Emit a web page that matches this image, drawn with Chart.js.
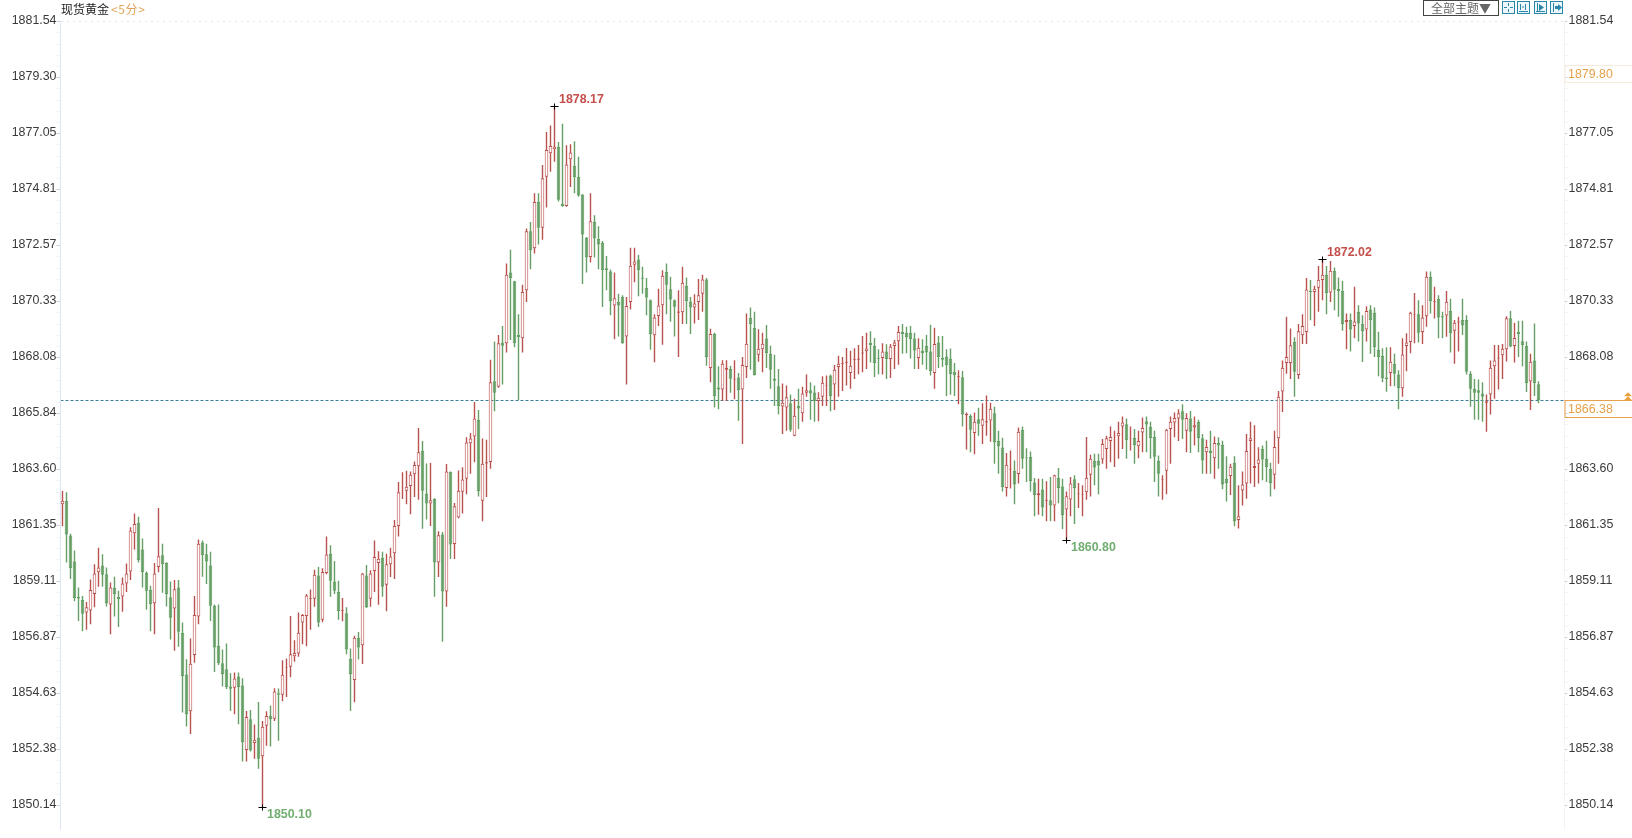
<!DOCTYPE html>
<html>
<head>
<meta charset="utf-8">
<title>现货黄金</title>
<script src="https://cdn.jsdelivr.net/npm/chart.js@4/dist/chart.umd.min.js"></script>
<style>
  html, body { margin: 0; padding: 0; background: #fff; }
  #wrap { position: relative; width: 1632px; height: 838px; overflow: hidden; }
  #title { position: absolute; left: 61px; top: 0; font: 12px/17px "Noto Sans CJK SC", sans-serif; color: #222; white-space: nowrap; }
  #title span { color: #dfa65a; margin-left: 2px; letter-spacing: 0.6px; }
  #theme { position: absolute; left: 1423px; top: 0; width: 74px; height: 14px; border: 1px solid #444; font: 12px/14px "Noto Sans CJK SC", sans-serif; color: #666; text-align: center; }
  .tool { position: absolute; top: 1px; width: 13px; height: 13px; }
</style>
</head>
<body>
<div id="wrap">
  <canvas id="goldChart" width="1632" height="838"></canvas>
  <div id="title">现货黄金<span>&lt;5分&gt;</span></div>
  <div id="theme">全部主题▼</div>
  <svg class="tool" style="left:1502px" viewBox="0 0 13 13"><rect x=".5" y=".5" width="12" height="12" fill="#eef7fb" stroke="#2a86a8"/><path d="M6.5 2v3M6.5 8v3M2 6.5h3M8 6.5h3" stroke="#2a86a8"/></svg>
  <svg class="tool" style="left:1517px" viewBox="0 0 13 13"><rect x=".5" y=".5" width="12" height="12" fill="#eef7fb" stroke="#2a86a8"/><path d="M3.5 3v6M8.5 3v6M2 10.5h9M5 6h2" stroke="#2a86a8"/></svg>
  <svg class="tool" style="left:1534px" viewBox="0 0 13 13"><rect x=".5" y=".5" width="12" height="12" fill="#eef7fb" stroke="#2a86a8"/><path d="M3.5 2v8M2 10.5h9" stroke="#2a86a8"/><path d="M5 3l5 3.5-5 3.5z" fill="#2a86a8"/></svg>
  <svg class="tool" style="left:1550px" viewBox="0 0 13 13"><rect x=".5" y=".5" width="12" height="12" fill="#eef7fb" stroke="#2a86a8"/><path d="M3.5 2v9" stroke="#2a86a8"/><path d="M5 5h3V3l4 3.5-4 3.5V8H5z" fill="#2a86a8"/></svg>
</div>
<script>
// price axis labels; the right side swaps two of them for price tags
const tickValues = [1881.54, 1879.30, 1877.05, 1874.81, 1872.57, 1870.33, 1868.08, 1865.84, 1863.60, 1861.35, 1859.11, 1856.87, 1854.63, 1852.38, 1850.14]
const rightHidden = [1879.30, 1865.84]

// 5 minute candles
const opens = [
  1862.21,1862.35,1860.96,1859.92,1858.50,1858.38,1857.88,1857.96,1858.62,1859.49,
  1859.76,1859.41,1858.20,1858.86,1858.50,1858.52,1859.04,1859.52,1861.05,1861.47,
  1860.40,1859.47,1858.78,1858.25,1859.70,1860.17,1859.86,1858.49,1858.04,1858.88,
  1857.06,1855.40,1853.92,1856.18,1857.72,1860.68,1860.21,1859.76,1858.15,1856.55,
  1855.85,1855.61,1854.92,1854.87,1855.32,1854.96,1852.37,1853.60,1852.65,1852.86,
  1852.12,1853.34,1853.74,1853.62,1854.65,1854.59,1855.66,1855.71,1856.13,1856.24,
  1857.48,1857.74,1858.43,1858.43,1859.36,1857.59,1859.46,1860.23,1859.12,1858.70,
  1857.94,1857.85,1856.03,1855.18,1856.87,1856.57,1859.36,1858.43,1859.54,1859.86,
  1860.07,1858.99,1859.81,1860.25,1861.34,1862.74,1862.76,1862.95,1863.42,1863.74,
  1864.35,1862.63,1862.24,1862.42,1859.88,1861.00,1858.72,1863.52,1860.62,1861.68,
  1862.71,1863.24,1864.66,1864.93,1865.59,1862.35,1863.85,1863.91,1867.14,1866.92,
  1868.69,1868.66,1871.50,1871.15,1868.99,1868.86,1870.78,1873.15,1872.47,1874.32,
  1873.29,1875.33,1876.27,1876.43,1876.52,1874.24,1874.16,1876.03,1875.77,1875.33,
  1874.62,1872.89,1872.12,1873.52,1872.84,1872.69,1871.67,1871.54,1870.17,1870.31,
  1870.51,1868.93,1870.31,1871.81,1872.02,1871.30,1870.88,1870.38,1868.98,1869.75,
  1870.18,1871.52,1870.82,1870.38,1869.88,1869.90,1870.97,1870.33,1870.09,1870.31,
  1870.64,1871.22,1867.67,1869.03,1866.89,1866.81,1867.60,1867.63,1867.21,1867.29,
  1866.81,1867.71,1869.67,1869.27,1868.20,1868.42,1868.85,1868.24,1867.25,1866.94,
  1866.13,1866.09,1866.26,1864.96,1866.15,1865.86,1866.68,1866.78,1866.69,1866.35,
  1866.52,1866.96,1867.37,1867.01,1867.71,1867.84,1867.88,1867.47,1868.00,1868.00,
  1868.25,1868.34,1868.67,1868.55,1868.08,1868.07,1868.33,1868.03,1868.55,1868.74,
  1869.11,1869.08,1869.08,1868.85,1868.07,1868.36,1868.55,1868.33,1867.47,1868.69,
  1868.08,1868.13,1868.05,1867.52,1867.30,1867.30,1865.78,1865.75,1865.07,1865.62,
  1865.36,1865.49,1865.57,1865.86,1864.75,1864.49,1862.87,1863.61,1863.56,1863.43,
  1865.19,1864.09,1864.12,1863.09,1862.57,1862.81,1862.35,1862.37,1862.16,1863.27,
  1862.93,1862.00,1862.40,1863.22,1862.61,1862.60,1862.69,1863.40,1863.96,1863.96,
  1864.01,1864.43,1864.75,1864.94,1864.94,1865.33,1865.42,1864.86,1864.88,1864.54,
  1865.09,1865.54,1865.32,1864.91,1863.96,1863.21,1863.56,1865.23,1865.49,1865.65,
  1865.94,1865.16,1865.65,1865.29,1865.52,1864.86,1864.30,1864.37,1864.06,1864.67,
  1864.59,1863.24,1863.35,1863.88,1861.58,1862.77,1863.05,1864.75,1863.67,1863.84,
  1864.43,1864.04,1863.64,1863.40,1864.86,1866.73,1867.87,1867.87,1868.71,1867.39,
  1868.98,1869.11,1870.75,1870.71,1870.88,1871.20,1871.41,1870.69,1871.57,1870.83,
  1870.75,1869.51,1869.59,1869.35,1869.92,1869.43,1869.21,1870.01,1869.88,1868.40,
  1868.16,1867.29,1867.47,1867.84,1867.41,1866.86,1868.55,1868.71,1869.80,1869.82,
  1869.11,1869.74,1871.33,1870.32,1870.43,1869.74,1869.77,1869.95,1869.16,1869.49,
  1869.59,1869.59,1867.44,1866.84,1866.78,1866.65,1866.28,1866.61,1867.74,1868.05,
  1868.18,1868.42,1869.66,1868.55,1869.11,1868.74,1868.55,1867.13,1867.97,1867.02
]
const closes = [
  1862.35,1861.00,1859.65,1858.46,1858.44,1857.83,1858.09,1858.78,1859.44,1859.68,
  1859.39,1858.25,1858.88,1858.62,1858.42,1859.04,1859.44,1861.16,1861.42,1859.97,
  1859.49,1858.75,1858.22,1859.44,1860.13,1859.81,1858.62,1857.67,1858.81,1857.11,
  1855.34,1853.80,1855.83,1857.78,1860.63,1860.18,1859.92,1858.15,1856.48,1855.85,
  1855.42,1854.90,1854.83,1855.24,1854.90,1852.68,1853.69,1852.35,1852.78,1852.02,
  1853.30,1853.73,1853.60,1854.72,1854.59,1855.39,1855.68,1856.21,1856.26,1857.07,
  1857.78,1858.56,1858.46,1859.39,1857.48,1859.50,1860.20,1859.15,1858.75,1857.93,
  1857.97,1856.40,1855.42,1856.87,1856.48,1859.44,1858.09,1859.44,1860.10,1860.03,
  1858.91,1859.81,1860.12,1861.34,1862.69,1862.76,1862.92,1863.40,1863.79,1864.30,
  1862.76,1862.24,1862.37,1859.88,1860.97,1858.72,1863.53,1860.60,1862.13,1862.76,
  1863.21,1864.69,1864.85,1865.65,1862.74,1863.84,1863.90,1867.10,1866.68,1868.66,
  1868.56,1871.41,1871.28,1868.66,1868.90,1870.71,1873.15,1872.39,1874.32,1873.29,
  1875.27,1876.40,1876.56,1876.54,1874.41,1874.16,1875.82,1876.30,1875.32,1874.58,
  1873.02,1872.10,1873.55,1872.86,1872.62,1871.59,1871.59,1870.35,1870.46,1870.17,
  1868.66,1870.15,1871.77,1871.94,1871.59,1871.25,1870.49,1869.03,1869.69,1870.17,
  1871.37,1871.01,1870.41,1870.12,1869.93,1871.09,1870.35,1870.09,1870.25,1870.58,
  1871.22,1868.11,1869.03,1866.55,1866.81,1867.84,1867.68,1867.24,1867.24,1866.79,
  1867.79,1868.64,1869.43,1867.39,1868.44,1868.64,1868.27,1867.60,1867.16,1866.15,
  1866.28,1866.50,1865.20,1865.76,1866.05,1866.65,1866.78,1866.65,1866.35,1866.48,
  1867.08,1866.98,1866.55,1867.60,1867.84,1867.87,1867.92,1867.76,1868.04,1868.05,
  1868.29,1868.45,1868.58,1867.87,1868.04,1868.33,1868.03,1868.53,1868.69,1869.11,
  1869.03,1868.90,1868.82,1868.37,1868.48,1868.26,1868.29,1867.54,1868.63,1868.11,
  1868.00,1867.78,1867.42,1867.39,1867.34,1865.81,1865.83,1865.20,1865.52,1865.44,
  1865.62,1865.54,1866.04,1864.70,1864.54,1862.91,1863.80,1863.64,1863.01,1865.12,
  1864.04,1864.06,1863.14,1862.58,1862.65,1862.08,1862.39,1862.16,1863.38,1862.87,
  1861.77,1862.53,1863.05,1862.87,1862.64,1862.62,1863.28,1864.04,1863.69,1863.77,
  1864.63,1864.86,1864.91,1864.96,1865.07,1865.49,1864.78,1864.88,1864.59,1864.75,
  1865.27,1865.41,1864.86,1864.12,1863.44,1863.24,1865.20,1865.52,1865.67,1865.86,
  1865.60,1865.67,1865.12,1865.38,1864.86,1863.97,1864.51,1864.26,1864.67,1864.57,
  1863.01,1863.06,1863.72,1861.53,1861.73,1863.01,1864.35,1864.86,1863.75,1864.01,
  1864.01,1863.71,1863.06,1864.51,1866.52,1867.68,1868.11,1868.58,1867.52,1869.14,
  1869.35,1870.81,1870.71,1870.84,1871.21,1871.41,1870.67,1871.57,1870.80,1870.75,
  1869.43,1869.59,1869.21,1869.53,1869.45,1869.14,1869.95,1869.58,1868.50,1868.11,
  1867.26,1867.23,1867.92,1867.44,1866.86,1868.21,1868.69,1869.88,1869.82,1869.08,
  1869.69,1871.33,1870.35,1870.35,1869.69,1869.69,1870.32,1869.06,1869.48,1869.53,
  1869.37,1867.52,1866.84,1866.68,1866.68,1866.52,1866.34,1867.68,1867.97,1868.08,
  1868.44,1869.66,1868.53,1868.87,1869.02,1868.58,1867.07,1867.92,1867.07,1866.38
]
const highs = [
  1862.74,1862.69,1861.03,1860.36,1858.88,1858.54,1858.30,1859.20,1859.81,1860.47,
  1860.21,1859.68,1859.08,1859.31,1858.75,1859.28,1859.84,1861.29,1861.84,1861.71,
  1860.84,1859.52,1858.95,1859.86,1862.06,1860.63,1859.89,1859.12,1859.18,1859.18,
  1857.48,1856.01,1856.84,1858.54,1860.80,1860.76,1860.63,1860.31,1858.20,1858.20,
  1856.40,1856.64,1855.45,1855.48,1855.48,1855.25,1853.93,1853.97,1853.39,1854.29,
  1853.53,1853.92,1854.15,1854.85,1854.84,1855.97,1856.04,1857.74,1856.77,1857.88,
  1857.82,1858.62,1858.80,1859.59,1859.70,1859.65,1860.92,1860.57,1859.94,1859.15,
  1858.46,1858.09,1856.44,1856.95,1857.10,1859.46,1859.78,1859.57,1860.76,1860.33,
  1860.31,1860.23,1860.47,1861.58,1863.11,1863.50,1863.56,1863.53,1863.93,1865.27,
  1864.75,1863.85,1863.87,1862.45,1861.13,1861.10,1863.83,1863.53,1862.26,1863.57,
  1863.70,1864.90,1865.07,1866.31,1865.99,1864.85,1864.80,1868.00,1868.73,1868.99,
  1869.35,1871.86,1872.41,1871.17,1869.82,1871.01,1873.26,1873.52,1874.67,1874.67,
  1875.80,1877.12,1877.38,1878.17,1876.72,1877.45,1876.59,1876.63,1876.75,1876.13,
  1874.63,1872.92,1874.67,1873.79,1873.35,1872.76,1872.16,1871.62,1871.50,1870.64,
  1870.58,1870.51,1872.49,1872.49,1872.20,1871.73,1871.28,1870.41,1869.82,1870.84,
  1871.59,1871.86,1871.33,1870.41,1870.78,1871.73,1871.30,1870.51,1870.62,1871.24,
  1871.41,1871.28,1869.24,1869.08,1867.74,1867.98,1867.98,1867.76,1867.98,1867.47,
  1868.11,1869.85,1870.09,1869.92,1869.22,1869.08,1869.39,1868.56,1868.20,1867.63,
  1867.05,1866.97,1866.61,1866.44,1866.84,1866.92,1867.41,1867.10,1866.97,1866.70,
  1867.34,1867.37,1867.41,1867.79,1868.16,1868.11,1868.47,1868.36,1868.46,1868.59,
  1868.95,1869.08,1869.14,1868.87,1868.42,1868.66,1868.62,1868.63,1868.79,1869.35,
  1869.43,1869.32,1869.35,1869.08,1868.86,1868.82,1868.99,1869.40,1869.28,1868.95,
  1868.95,1868.42,1868.45,1867.87,1867.58,1867.55,1865.89,1865.82,1865.89,1866.08,
  1866.26,1866.57,1866.28,1866.12,1865.16,1864.88,1864.27,1864.37,1863.97,1865.29,
  1865.33,1864.46,1864.33,1863.27,1863.24,1863.24,1863.14,1863.31,1863.40,1863.67,
  1863.24,1862.72,1863.31,1863.38,1863.07,1862.98,1864.91,1864.20,1864.24,1864.24,
  1864.83,1864.96,1865.33,1865.16,1865.52,1865.73,1865.65,1865.33,1865.23,1865.16,
  1865.69,1865.73,1865.52,1865.16,1864.17,1863.38,1865.23,1865.73,1865.89,1866.02,
  1866.22,1865.86,1865.95,1865.73,1865.60,1865.03,1864.80,1865.16,1864.93,1864.90,
  1864.76,1864.14,1863.84,1864.14,1862.98,1863.53,1865.03,1865.52,1865.38,1864.50,
  1864.57,1864.76,1863.88,1865.16,1866.75,1867.97,1869.72,1869.25,1868.90,1869.43,
  1869.82,1871.28,1871.20,1870.97,1871.76,1872.02,1871.76,1871.96,1871.70,1871.30,
  1871.17,1869.85,1869.85,1870.93,1870.18,1869.78,1870.14,1870.18,1870.09,1869.12,
  1868.46,1868.50,1868.50,1868.24,1867.58,1868.86,1869.06,1869.92,1870.67,1870.38,
  1870.18,1871.54,1871.54,1870.93,1870.58,1869.92,1870.75,1870.44,1869.59,1869.72,
  1870.44,1869.78,1867.54,1867.23,1867.21,1867.10,1866.61,1867.97,1868.59,1868.59,
  1868.63,1869.74,1869.95,1869.48,1869.56,1869.56,1868.73,1868.24,1869.45,1867.14
]
const lows = [
  1861.33,1859.88,1859.22,1858.33,1857.54,1857.13,1857.19,1857.41,1858.09,1858.91,
  1858.91,1858.12,1857.01,1857.72,1857.30,1857.91,1858.70,1859.18,1860.40,1859.88,
  1858.88,1857.99,1857.13,1857.01,1859.49,1858.67,1858.12,1856.80,1856.35,1856.51,
  1853.87,1853.31,1853.01,1855.87,1857.41,1859.31,1859.02,1857.54,1855.50,1855.78,
  1854.92,1854.82,1853.93,1853.80,1853.40,1851.91,1851.91,1852.31,1852.02,1851.62,
  1850.10,1852.54,1852.51,1853.53,1852.74,1854.32,1854.49,1855.29,1855.91,1856.11,
  1856.61,1856.53,1857.19,1858.11,1857.30,1857.49,1859.41,1858.51,1858.62,1857.59,
  1857.53,1856.21,1853.93,1854.28,1856.00,1855.82,1858.06,1858.11,1858.70,1858.19,
  1858.51,1857.93,1859.30,1859.22,1860.92,1862.42,1862.21,1861.81,1862.50,1862.39,
  1861.23,1861.60,1861.34,1858.51,1859.30,1856.71,1858.11,1860.02,1860.02,1861.65,
  1861.84,1862.61,1863.44,1863.90,1862.52,1861.53,1862.50,1863.64,1865.94,1866.88,
  1867.01,1868.29,1868.79,1868.50,1866.39,1868.29,1870.31,1871.63,1872.26,1872.62,
  1872.81,1874.10,1875.53,1875.93,1874.34,1874.13,1874.13,1874.92,1874.67,1874.53,
  1871.04,1871.50,1871.90,1872.10,1871.63,1870.11,1870.78,1869.78,1868.82,1868.93,
  1868.64,1867.01,1870.01,1871.11,1870.54,1870.64,1869.78,1868.40,1867.90,1869.35,
  1868.60,1869.82,1869.52,1868.93,1868.11,1869.43,1869.43,1869.03,1869.45,1869.59,
  1869.92,1867.76,1867.10,1866.09,1866.02,1866.35,1866.35,1866.68,1866.42,1865.56,
  1864.63,1867.27,1867.60,1867.37,1867.92,1867.50,1867.67,1866.84,1866.15,1865.82,
  1865.03,1865.16,1865.12,1864.94,1865.23,1865.52,1866.52,1865.60,1865.52,1865.54,
  1866.15,1866.15,1865.94,1865.99,1866.52,1866.75,1866.97,1866.84,1867.23,1867.42,
  1867.50,1867.63,1867.89,1867.31,1867.42,1867.41,1867.23,1867.27,1867.63,1867.80,
  1868.24,1868.26,1868.05,1867.63,1867.63,1867.80,1867.60,1867.37,1866.84,1867.67,
  1867.71,1866.55,1866.60,1866.55,1866.22,1865.33,1864.41,1864.30,1864.22,1864.96,
  1864.63,1864.96,1864.72,1863.84,1863.44,1862.72,1862.52,1862.85,1862.21,1863.05,
  1863.64,1863.11,1862.72,1861.73,1861.79,1861.73,1861.53,1861.53,1861.53,1862.25,
  1861.22,1860.80,1861.73,1861.42,1862.06,1861.73,1862.39,1862.52,1862.98,1862.61,
  1863.84,1863.64,1863.90,1863.71,1864.04,1864.43,1864.04,1864.37,1863.84,1864.06,
  1864.30,1864.30,1864.04,1863.11,1862.52,1862.39,1862.61,1863.84,1864.90,1864.75,
  1864.83,1864.30,1864.27,1864.57,1864.30,1863.44,1863.44,1863.44,1863.24,1863.64,
  1862.82,1862.32,1862.58,1861.33,1861.24,1862.16,1862.43,1863.05,1862.91,1863.05,
  1863.18,1863.11,1862.52,1862.82,1863.84,1865.91,1867.44,1867.23,1866.52,1867.23,
  1868.63,1868.63,1869.58,1869.35,1869.92,1870.38,1869.82,1870.31,1869.98,1869.72,
  1869.16,1868.42,1868.33,1868.86,1868.73,1867.91,1868.73,1868.24,1868.11,1867.34,
  1867.10,1866.72,1866.94,1866.94,1866.02,1866.52,1867.54,1868.26,1868.66,1868.69,
  1868.63,1869.32,1869.85,1869.65,1868.86,1868.86,1868.92,1868.29,1867.84,1868.33,
  1868.99,1867.41,1866.12,1865.60,1865.60,1865.52,1865.12,1865.81,1866.44,1866.81,
  1867.23,1867.93,1868.50,1867.89,1868.11,1867.74,1866.71,1865.99,1866.55,1866.26
]

// marked extremes
const extremeIndex = [50, 123, 251, 315]
const extremeValue = [1850.10, 1878.17, 1860.80, 1872.02]

// price tags on the right
const lastPrice = 1866.38
const otherTag = 1879.80

const upColor = "#b9524f"
const downColor = "#669f66"
const tagColor = "#e6a14a"

// 6 empty slots after the last candle
const slots = [...opens.map((o, i) => String(i)), "", "", "", "", "", ""]

const candleColor = (ctx) => closes[ctx.dataIndex] >= opens[ctx.dataIndex] ? upColor : downColor

// small unlabelled ticks between the labelled ones
const allTicks = []
tickValues.forEach((v, i) => {
  allTicks.push(v)
  if (i < tickValues.length - 1) {
    const step = (v - tickValues[i + 1]) / 5
    for (let k = 1; k < 5; k++) allTicks.push(v - step * k)
  }
})

const markers = {
  id: "markers",
  afterDatasetsDraw(chart) {
    const { ctx, scales } = chart
    ctx.save()
    extremeIndex.forEach((idx, n) => {
      const x = Math.round(scales.x.getPixelForValue(idx) - 0.5) + 0.5
      const y = Math.round(scales.y.getPixelForValue(extremeValue[n])) + 0.5
      ctx.strokeStyle = "#000"
      ctx.lineWidth = 1
      ctx.beginPath()
      ctx.moveTo(x - 4, y)
      ctx.lineTo(x + 4, y)
      ctx.moveTo(x, y - 3)
      ctx.lineTo(x, y + 3)
      ctx.stroke()
      const isHigh = highs[idx] === extremeValue[n]
      ctx.font = "bold 12.4px 'Liberation Sans'"
      ctx.textBaseline = "middle"
      ctx.textAlign = "left"
      ctx.fillStyle = isHigh ? "#c44e4a" : "#72ae72"
      ctx.fillText(extremeValue[n].toFixed(2), x + 4.5, isHigh ? y - 7 : y + 7)
    })

    // boxed price tags hang below their own value
    const right = scales.yRight
    const drawTag = (value, border) => {
      const top = Math.round(right.getPixelForValue(value)) + 0.5
      ctx.strokeStyle = border
      ctx.lineWidth = 1
      ctx.strokeRect(right.left + 0.5, top, chart.width - right.left, 17)
      ctx.font = "12.4px 'Liberation Sans'"
      ctx.fillStyle = tagColor
      ctx.textBaseline = "middle"
      ctx.textAlign = "left"
      ctx.fillText(value.toFixed(2), right.left + 3.5, top + 9)
    }
    drawTag(otherTag, "#f7ecdc")
    drawTag(lastPrice, tagColor)

    // small double arrow over the last price tag
    const ay = right.getPixelForValue(lastPrice)
    ctx.fillStyle = "#e9a23f"
    ;[-8, -4].forEach((dy) => {
      ctx.beginPath()
      ctx.moveTo(1624, ay + dy + 4)
      ctx.lineTo(1628, ay + dy)
      ctx.lineTo(1632, ay + dy + 4)
      ctx.fill()
    })
    ctx.restore()
  },
}

new Chart(document.getElementById("goldChart"), {
  type: "bar",
  data: {
    labels: slots,
    datasets: [
      {
        label: "body",
        data: opens.map((o, i) => [o, closes[i]]),
        order: 1,
        grouped: false,
        barThickness: 3.6,
        inflateAmount: 0,
        borderWidth: 1,
        borderSkipped: false,
        borderColor: candleColor,
        backgroundColor: (ctx) => closes[ctx.dataIndex] >= opens[ctx.dataIndex] ? "#ffffff" : downColor,
      },
      {
        label: "wick",
        data: lows.map((l, i) => [l, highs[i]]),
        order: 2,
        grouped: false,
        barThickness: 1.4,
        inflateAmount: 0,
        borderWidth: 0,
        borderSkipped: false,
        backgroundColor: candleColor,
      },
    ],
  },
  options: {
    responsive: false,
    animation: false,
    devicePixelRatio: 1,
    layout: { autoPadding: false, padding: { top: 21.7, left: 0.5 } },
    plugins: { legend: { display: false }, tooltip: { enabled: false } },
    events: [],
    scales: {
      x: { display: false, offset: true, grid: { display: false } },
      y: {
        position: "left",
        min: 1849.186,
        max: 1881.54,
        afterFit(scale) { scale.width = 60 },
        afterBuildTicks(scale) { scale.ticks = allTicks.map((value) => ({ value })) },
        border: { color: "#dde6f2", dash: [2, 4] },
        grid: {
          tickLength: 4,
          color: (ctx) => ctx.tick && ctx.tick.value === tickValues[0] ? "#e6e6e6" : "rgba(0,0,0,0)",
          tickColor: (ctx) => ctx.tick && tickValues.includes(ctx.tick.value) ? "#c8d2de" : "#eef1f5",
        },
        ticks: {
          autoSkip: false,
          padding: 0,
          labelOffset: -1,
          color: "#3a3a3a",
          font: { family: "'Liberation Sans'", size: 12.4 },
          callback: (value) => tickValues.includes(value) ? value.toFixed(2) : "",
        },
      },
      yRight: {
        position: "right",
        min: 1849.186,
        max: 1881.54,
        afterFit(scale) { scale.width = 67.5 },
        afterBuildTicks(scale) { scale.ticks = [...allTicks, lastPrice].map((value) => ({ value })) },
        border: { color: "#f3f3f3", dash: [3, 2] },
        grid: {
          tickLength: 3,
          color: (ctx) => ctx.tick && ctx.tick.value === lastPrice ? "#3a7f98" : "rgba(0,0,0,0)",
          tickColor: (ctx) => {
            if (!ctx.tick || ctx.tick.value === lastPrice) return "rgba(0,0,0,0)"
            return tickValues.includes(ctx.tick.value) ? "#c8d2de" : "#f0f0f0"
          },
        },
        ticks: {
          autoSkip: false,
          padding: 1,
          labelOffset: -1,
          color: "#3a3a3a",
          font: { family: "'Liberation Sans'", size: 12.4 },
          callback: (value) => tickValues.includes(value) && !rightHidden.includes(value) ? value.toFixed(2) : "",
        },
      },
    },
  },
  plugins: [markers],
})
</script>
</body>
</html>
